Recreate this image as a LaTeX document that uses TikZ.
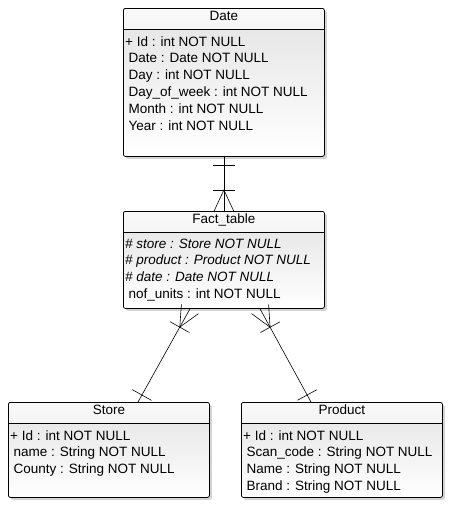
\documentclass[tikz,border=0pt]{standalone}
\usepackage{fontspec}
\setmainfont{Liberation Sans}
\usetikzlibrary{shadows,calc,positioning}
\newcommand{\tablefont}{\fontsize{13.5}{16.8}\selectfont}
\newcommand{\pk}[1]{\hspace*{-3.5pt}#1}
\newcommand{\fk}[1]{\hspace*{-3.5pt}\textit{#1}}

\begin{document}
\begin{tikzpicture}[x=1pt,y=-1pt]
    \tikzstyle{table}=[draw, line width=0.8pt, rounded corners=2pt, anchor=north west, minimum width=201pt, inner sep=0pt,
      top color=gray!22, bottom color=white,
      drop shadow={opacity=0.35, shadow xshift=2.5pt, shadow yshift=-2.5pt},
      path picture={\shade[top color=gray!5, bottom color=gray!20] (path picture bounding box.north west) rectangle ([yshift=-21pt]path picture bounding box.north east);}]
    \tikzstyle{title}=[anchor=base, inner sep=0pt, font=\tablefont]
    \tikzstyle{field}=[anchor=base west, inner sep=0pt, font=\tablefont]
    \tikzstyle{link}=[draw, line width=0.6pt]
    \useasboundingbox (0,0) rectangle (467,523);
    % tables
    \node[table, minimum height=148pt] (date) at (123,8) {};
    \node[table, minimum height=97pt] (fact) at (123,211) {};
    \node[table, minimum height=95pt] (store) at (8,402) {};
    \node[table, minimum height=95pt] (product) at (241,402) {};
    \foreach \t/\n in {date/Date, fact/Fact\_table, store/Store, product/Product} {
      \draw[line width=0.8pt] ([yshift=-21pt]\t.north west) -- ([yshift=-21pt]\t.north east);
      \node[title] (\t-title) at ([yshift=-12.5pt]\t.north) {\n};
    }
    % fields
    \foreach \r [count=\i] in {{\pk{+ Id : int NOT NULL}}, Date : Date NOT NULL, Day : int NOT NULL,
        Day\_of\_week : int NOT NULL, Month : int NOT NULL, Year : int NOT NULL}
      \node[field] (date-\i) at ([shift={(5.5,{38+16.8*(\i-1)})}]date.north west) {\r};
    \foreach \r [count=\i] in {{\fk{\# store : Store NOT NULL}}, {\fk{\# product : Product NOT NULL}},
        {\fk{\# date : Date NOT NULL}}, nof\_units : int NOT NULL}
      \node[field] (fact-\i) at ([shift={(5.5,{37+16.8*(\i-1)})}]fact.north west) {\r};
    \foreach \r [count=\i] in {{\pk{+ Id : int NOT NULL}}, name : String NOT NULL, County : String NOT NULL}
      \node[field] (store-\i) at ([shift={(5.5,{38+16.8*(\i-1)})}]store.north west) {\r};
    \foreach \r [count=\i] in {{\pk{+ Id : int NOT NULL}}, Scan\_code : String NOT NULL,
        Name : String NOT NULL, Brand : String NOT NULL}
      \node[field] (product-\i) at ([shift={(5.5,{38+16.8*(\i-1)})}]product.north west) {\r};
    % relations
    \coordinate (d1) at (date.south);
    \coordinate (f1) at (fact.north);
    \coordinate (f2) at ([xshift=67pt]fact.south west);
    \coordinate (s2) at ([xshift=130pt]store.north west);
    \coordinate (f3) at ([xshift=137pt]fact.south west);
    \coordinate (p3) at ([xshift=70pt]product.north west);
    \draw[link] (date) -- (fact);
    \draw[link] (f2) -- (s2);
    \draw[link] (f3) -- (p3);
    \foreach \e/\s in {f1/d1, f2/s2, f3/p3} {
      \coordinate (c) at ($(\e)!21pt!(\s)$);
      \draw[link] ($(c)!11pt!90:(\e)$) -- ($(c)!11pt!-90:(\e)$);
      \draw[link] ($(c)!23pt!25:(\e)$) -- (c) -- ($(c)!23pt!-25:(\e)$);
    }
    \foreach \s/\e in {d1/f1, s2/f2, p3/f3} {
      \coordinate (c) at ($(\s)!8pt!(\e)$);
      \draw[link] ($(c)!11pt!90:(\s)$) -- ($(c)!11pt!-90:(\s)$);
    }
\end{tikzpicture}
\end{document}
